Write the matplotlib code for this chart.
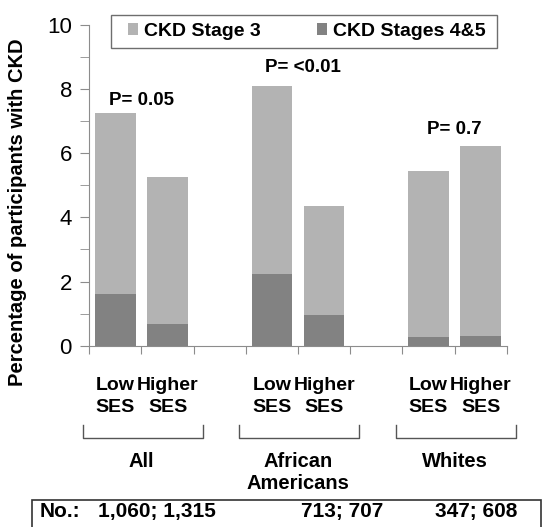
import numpy as np
import matplotlib.pyplot as plt
from matplotlib.patches import Rectangle

# values (percent of participants)
bar_labels = ['Low\nSES', 'Higher\nSES'] * 3
groups = ['All', 'African\nAmericans', 'Whites']
totals = [7.27, 5.26, 8.11, 4.37, 5.46, 6.24]
stage45 = [1.60, 0.67, 2.23, 0.96, 0.27, 0.31]
p_values = ['P= 0.05', 'P= <0.01', 'P= 0.7']
counts = ['1,060; 1,315', '713; 707', '347; 608']

stage3 = [t - d for t, d in zip(totals, stage45)]
slots = [0, 1, 3, 4, 6, 7]

plt.rcParams['font.family'] = ['Liberation Sans', 'DejaVu Sans']
light = '#b3b3b3'
dark = '#828282'
axcol = '#8c8c8c'

fig = plt.figure(figsize=(5.43, 5.27), dpi=100)
ax = fig.add_axes([0.1645, 0.344, 0.7686, 0.6086])

ax.bar(slots, stage45, width=0.78, color=dark, label='CKD Stages 4&5', zorder=2)
ax.bar(slots, stage3, width=0.78, bottom=stage45, color=light,
       label='CKD Stage 3', zorder=2)

ax.set_xlim(-0.5, 7.5)
ax.set_ylim(0, 10)
ax.set_yticks(np.arange(0, 11, 2))
ax.set_yticks(np.arange(1, 10, 2), minor=True)
ax.set_xticks(np.arange(-0.5, 8, 1))
ax.set_xticklabels([])
for s in ['top', 'right']:
    ax.spines[s].set_visible(False)
for s in ['left', 'bottom']:
    ax.spines[s].set_color(axcol)
ax.tick_params(axis='y', which='both', length=6.5, color=axcol, labelsize=16, pad=6)
ax.tick_params(axis='x', length=5.5, color=axcol)
ax.set_ylabel('Percentage of participants with CKD', fontsize=14.5,
              fontweight='bold')
ax.yaxis.set_label_coords(-0.15, 0.415)

# legend with stage 3 first, box drawn separately
h, l = ax.get_legend_handles_labels()
leg = ax.legend(h[::-1], l[::-1], loc='center left', bbox_to_anchor=(0.092, 0.98),
                ncol=2, frameon=False, borderpad=0, borderaxespad=0,
                handlelength=0.52, handleheight=0.62, handletextpad=0.3,
                columnspacing=2.9, prop={'weight': 'bold', 'size': 14})
ax.add_patch(Rectangle((0.052, 0.929), 0.924, 0.101, transform=ax.transAxes,
                       fill=False, edgecolor='#6e6e6e', lw=1.0, clip_on=False))

# p values above groups
p_pos = [(0.5, 7.64), (3.6, 8.66), (6.5, 6.73)]
for (x, y), txt in zip(p_pos, p_values):
    ax.text(x, y, txt, ha='center', va='center', fontsize=13.5, fontweight='bold')

# bar labels under the axis
for x, lab in zip(slots, bar_labels):
    top, bot = lab.split('\n')
    ax.text(x, -1.23, top, ha='center', va='center', fontsize=14,
            fontweight='bold', clip_on=False)
    ax.text(x, -1.94, bot, ha='center', va='center', fontsize=14,
            fontweight='bold', clip_on=False)

# group brackets
for g, name in enumerate(groups):
    x0, x1 = 3 * g - 0.63, 3 * g + 1.67
    yb0, yb1 = -2.47, -2.88
    ax.plot([x0, x0, x1, x1], [yb0, yb1, yb1, yb0], color='#555555', lw=1.0,
            clip_on=False)
    ax.text(3 * g + 0.5, -3.3, name, ha='center', va='top', fontsize=14.5,
            fontweight='bold', linespacing=1.2, clip_on=False)

# sample sizes box at the bottom
fig.patches.append(Rectangle((31.7 / 543, -0.01), (541 - 31.7) / 543, (527 - 500) / 527 + 0.01,
                             transform=fig.transFigure, fill=False,
                             edgecolor='#333333', lw=1.2))
fig.text(40 / 543, 1 - 511.5 / 527, 'No.:', ha='left', va='center',
         fontsize=15, fontweight='bold')
for xc, txt in zip([157, 342, 476], counts):
    fig.text(xc / 543, 1 - 511.5 / 527, txt, ha='center', va='center',
             fontsize=15, fontweight='bold')

fig.savefig('out.png', dpi=100)
